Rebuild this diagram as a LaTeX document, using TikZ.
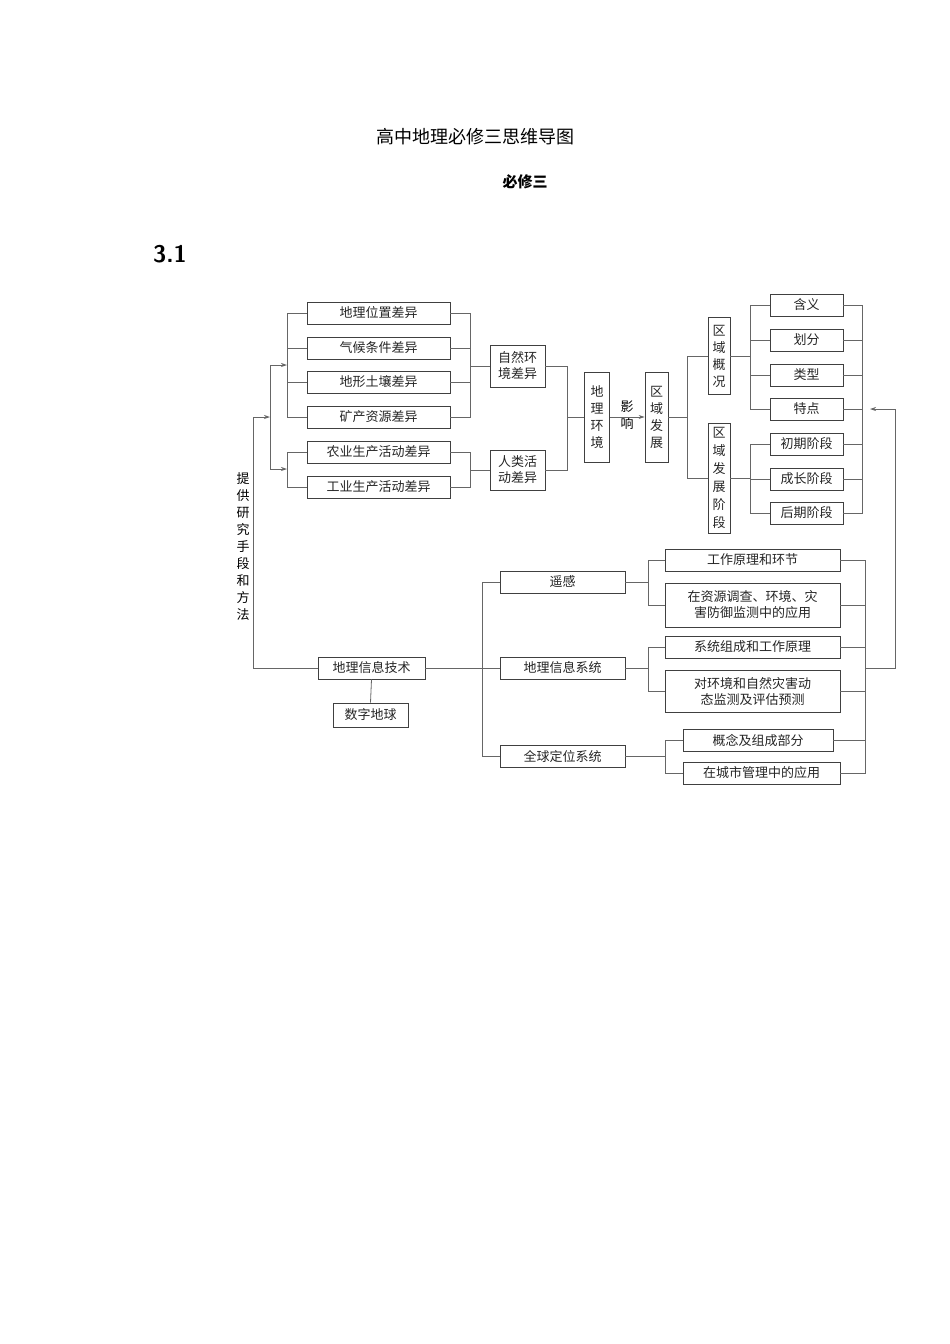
\documentclass[tikz,border=0pt]{standalone}
\usepackage{fontspec}
\newfontfamily\cjk{Noto Sans CJK SC}
\usetikzlibrary{arrows.meta}
\begin{document}
\begin{tikzpicture}[x=1pt,y=-1pt,
  bx/.style={draw=black!75,line width=0.8pt,fill=white,font=\cjk\fontsize{13}{15}\selectfont,inner sep=0pt,minimum height=22pt,text=black!85,align=center},
  vb/.style={bx,align=center,font=\cjk\fontsize{13}{17}\selectfont},
  ln/.style={draw=black!60,line width=0.8pt},
  ar/.style={ln,-{Stealth[length=6pt,width=4pt]}}]
\useasboundingbox (0,0) rectangle (950,1344);
\node[font=\cjk\fontsize{18}{20}\selectfont] (title) at (475,137) {高中地理必修三思维导图};
\node[font=\cjk\bfseries\fontsize{15}{18}\selectfont] (sub) at (525,182) {必修三};
\node[font=\sffamily\bfseries\fontsize{24}{26}\selectfont] (num) at (170,254) {3.1};
% left column
\foreach \n/\t/\y in {a1/地理位置差异/313,a2/气候条件差异/348,a3/地形土壤差异/382,a4/矿产资源差异/417,a5/农业生产活动差异/452,a6/工业生产活动差异/487}
  \node[bx,minimum width=143pt] (\n) at (378.5,\y) {\t};
\node[bx,minimum width=55pt,minimum height=42pt,font=\cjk\fontsize{13}{16}\selectfont] (zr) at (517.5,366) {自然环\\境差异};
\node[bx,minimum width=55pt,minimum height=40pt,font=\cjk\fontsize{13}{16}\selectfont] (rl) at (517.5,470) {人类活\\动差异};
\node[vb,minimum width=25pt,minimum height=90pt] (dl) at (597,417) {地\\理\\环\\境};
\node[font=\cjk\fontsize{13}{17}\selectfont,align=center] (yx) at (627,415) {影\\响};
\node[vb,minimum width=23pt,minimum height=90pt] (qf) at (656.5,417) {区\\域\\发\\展};
\node[vb,minimum width=22pt,minimum height=77pt] (gk) at (719,356) {区\\域\\概\\况};
\node[vb,minimum width=22pt,minimum height=110pt,font=\cjk\fontsize{13}{18}\selectfont] (jd) at (719,478) {区\\域\\发\\展\\阶\\段};
\foreach \n/\t/\y in {b1/含义/305,b2/划分/340,b3/类型/375,b4/特点/409,b5/初期阶段/444,b6/成长阶段/479,b7/后期阶段/513}
  \node[bx,minimum width=73pt] (\n) at (806.5,\y) {\t};
% bottom
\node[bx,minimum width=107pt] (xx) at (371.5,668) {地理信息技术};
\node[bx,minimum width=75pt,minimum height=24pt] (sz) at (370.5,715) {数字地球};
\node[bx,minimum width=125pt] (yg) at (562.5,582) {遥感};
\node[bx,minimum width=125pt] (gis) at (562.5,668) {地理信息系统};
\node[bx,minimum width=125pt] (gps) at (562.5,756) {全球定位系统};
\node[bx,minimum width=175pt] (c1) at (752.5,560) {工作原理和环节};
\node[bx,minimum width=175pt,minimum height=44pt,font=\cjk\fontsize{13}{16}\selectfont] (c2) at (752.5,605) {在资源调查、环境、灾\\害防御监测中的应用};
\node[bx,minimum width=175pt] (c3) at (752.5,647) {系统组成和工作原理};
\node[bx,minimum width=175pt,minimum height=42pt,font=\cjk\fontsize{13}{16}\selectfont] (c4) at (752.5,691) {对环境和自然灾害动\\态监测及评估预测};
\node[bx,minimum width=150pt] (c5) at (758,740) {概念及组成部分};
\node[bx,minimum width=157pt] (c6) at (761.5,773) {在城市管理中的应用};
\node[font=\cjk\fontsize{13}{17}\selectfont,align=center] (tg) at (243,547) {提\\供\\研\\究\\手\\段\\和\\方\\法};
% coordinates
\coordinate (L1) at (287,313); \coordinate (L2) at (287,417);
\coordinate (L3) at (287,452); \coordinate (L4) at (287,487);
% left brackets
\draw[ln] (a1.west) -- (L1) -- (L2) -- (a4.west);
\draw[ln] (a2.west) -- (a2.west -| L1);
\draw[ln] (a3.west) -- (a3.west -| L1);
\draw[ln] (a5.west) -- (L3) -- (L4) -- (a6.west);
\draw[ln] (270,365) -- (270,469);
\draw[ar] (270,365) -- (287,365);
\draw[ar] (270,469) -- (287,469);
\draw[ln] (xx.west) -- (253,668) -- (253,417);
\draw[ar] (253,417) -- (270,417);
% right of left column
\draw[ln] (a1.east) -- (470,313) -- (470,417) -- (a4.east);
\draw[ln] (a2.east) -- (470,348); \draw[ln] (a3.east) -- (470,382);
\draw[ln] (470,366) -- (zr.west);
\draw[ln] (a5.east) -- (470,452) -- (470,487) -- (a6.east);
\draw[ln] (470,470) -- (rl.west);
\draw[ln] (zr.east) -- (567,366) -- (567,470) -- (rl.east);
\draw[ln] (567,417) -- (dl.west);
\draw[ar] (dl.east) -- (qf.west);
\draw[ln] (qf.east) -- (687,417);
\draw[ln] (gk.west) -- (687,356) -- (687,478) -- (jd.west);
\draw[ln] (gk.east) -- (750,356);
\draw[ln] (b1.west) -- (750,305) -- (750,409) -- (b4.west);
\draw[ln] (b2.west) -- (750,340); \draw[ln] (b3.west) -- (750,375);
\draw[ln] (jd.east) -- (750,478);
\draw[ln] (b5.west) -- (750,444) -- (750,513) -- (b7.west);
\draw[ln] (b6.west) -- (750,479);
\draw[ln] (b1.east) -- (862,305) -- (862,513) -- (b7.east);
\foreach \n in {b2,b3,b4,b5,b6} \draw[ln] (\n.east) -- (\n.east -| 862,0);
% bottom links
\draw[ln] (xx.south) -- (sz.north);
\draw[ln] (xx.east) -- (gis.west);
\draw[ln] (yg.west) -- (482,582) -- (482,756) -- (gps.west);
\draw[ln] (yg.east) -- (648,582);
\draw[ln] (c1.west) -- (648,560) -- (648,605) -- (c2.west);
\draw[ln] (gis.east) -- (648,668);
\draw[ln] (c3.west) -- (648,647) -- (648,691) -- (c4.west);
\draw[ln] (gps.east) -- (665,756);
\draw[ln] (c5.west) -- (665,740) -- (665,773) -- (c6.west);
\draw[ln] (c1.east) -- (865,560) -- (865,773) -- (c6.east);
\foreach \n in {c2,c3,c4,c5} \draw[ln] (\n.east) -- (\n.east -| 865,0);
\draw[ln] (865,668) -- (895,668) -- (895,409);
\draw[ar] (895,409) -- (870,409);
\end{tikzpicture}
\end{document}
